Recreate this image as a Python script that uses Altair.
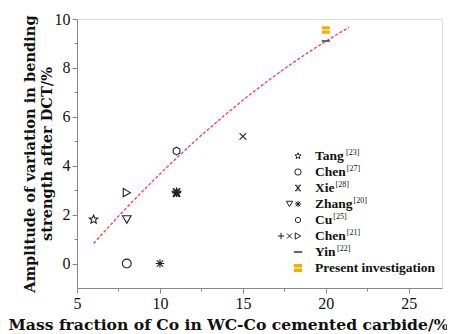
import altair as alt
import pandas as pd

# ---------------- data ----------------
tang_x, tang_y = [6, 11], [1.8, 2.9]
chen27_x, chen27_y = [8], [0.0]
xie_x, xie_y = [11], [2.9]
zhang_tri_x, zhang_tri_y = [8], [1.8]
zhang_ast_x, zhang_ast_y = [10, 11], [0.0, 2.9]
cu_x, cu_y = [11], [4.6]
chen21_plus_x, chen21_plus_y = [11], [2.9]
chen21_x_x, chen21_x_y = [15], [5.2]
chen21_tri_x, chen21_tri_y = [8], [2.9]
yin_x, yin_y = [20], [9.1]
present_x, present_y = [20], [9.55]

fit_x = [6, 8, 10, 12, 14, 16, 18, 20, 21.4]
fit_y = [0.82, 2.29, 3.66, 4.94, 6.12, 7.21, 8.2, 9.09, 9.66]

legend_labels = ["Tang", "Chen", "Xie", "Zhang", "Cu", "Chen", "Yin", "Present investigation"]
legend_sups = ["[23]", "[27]", "[28]", "[20]", "[25]", "[21]", "[22]", ""]
legend_markers = [["star"], ["circle"], ["xie"], ["tri_down", "ast"], ["hex"],
                  ["plus", "x", "tri_right"], ["dash"], ["present"]]

x_major = [5, 10, 15, 20, 25]
x_minor = [7.5, 12.5, 17.5, 22.5]
y_major = [0, 2, 4, 6, 8, 10]
y_minor = [1, 3, 5, 7, 9]

# ---------------- marker shapes ----------------
paths = {
    "star": "M0,-1L0.265,-0.364L0.951,-0.309L0.428,0.139L0.588,0.809L0,0.45L-0.588,0.809L-0.428,0.139L-0.951,-0.309L-0.265,-0.364Z",
    "circle": "circle",
    "xie": "M-0.8,-0.9L0.8,0.9M-0.8,0.9L0.8,-0.9M0,-0.9L0,0.9M-0.45,0L0.45,0M-0.9,-0.9L-0.4,-0.9M0.4,-0.9L0.9,-0.9M-0.9,0.9L-0.4,0.9M0.4,0.9L0.9,0.9",
    "tri_down": "triangle-down",
    "ast": "M-1,0L1,0M0,-1L0,1M-0.72,-0.72L0.72,0.72M-0.72,0.72L0.72,-0.72",
    "hex": "M0,-0.9L0.78,-0.45L0.78,0.45L0,0.9L-0.78,0.45L-0.78,-0.45Z",
    "plus": "M-1,0L1,0M0,-1L0,1",
    "x": "M-0.8,-0.8L0.8,0.8M-0.8,0.8L0.8,-0.8",
    "tri_right": "triangle-right",
    "dash": "M-1,-0.22L1,-0.22L1,0.22L-1,0.22Z",
    "present": "M-1,-0.95L1,-0.95L1,-0.12L-1,-0.12ZM-1,0.12L1,0.12L1,0.95L-1,0.95Z",
}
hollow_keys = ["star", "circle", "xie", "tri_down", "ast", "hex", "plus", "x", "tri_right"]
filled_keys = ["dash", "present"]
sizes = {"star": 80, "circle": 64, "xie": 70, "tri_down": 55, "ast": 70, "hex": 64,
         "plus": 60, "x": 60, "tri_right": 55, "dash": 80, "present": 100}
fills = {"dash": "#555555", "present": "#f0b000"}

rows = []
def add(xs, ys, m):
    for a, b in zip(xs, ys):
        rows.append({"x": a, "y": b, "m": m})
add(tang_x, tang_y, "star")
add(chen27_x, chen27_y, "circle")
add(xie_x, xie_y, "xie")
add(zhang_tri_x, zhang_tri_y, "tri_down")
add(zhang_ast_x, zhang_ast_y, "ast")
add(cu_x, cu_y, "hex")
add(chen21_plus_x, chen21_plus_y, "plus")
add(chen21_x_x, chen21_x_y, "x")
add(chen21_tri_x, chen21_tri_y, "tri_right")
add(yin_x, yin_y, "dash")
add(present_x, present_y, "present")
pts = pd.DataFrame(rows)

all_keys = hollow_keys + filled_keys
shape_scale = alt.Scale(domain=all_keys, range=[paths[k] for k in all_keys])
size_scale = alt.Scale(domain=all_keys, range=[sizes[k] for k in all_keys])
fill_scale = alt.Scale(domain=filled_keys, range=[fills[k] for k in filled_keys])

# ---------------- scales / axes ----------------
xs = alt.Scale(domain=[5, 27], nice=False, zero=False)
ys = alt.Scale(domain=[-1, 10], nice=False, zero=False)

FONT = "Liberation Serif"
x_main = alt.Axis(values=x_major, title="Mass fraction of Co in WC-Co cemented carbide/%",
                  orient="bottom", grid=False, labelFont=FONT, labelFontSize=16, labelColor="#111",
                  titleFont="DejaVu Serif", titleFontWeight="bold", titleFontSize=15.6, titleColor="#111",
                  titleX=151, titleY=41, titleBaseline="alphabetic", titleAlign="center",
                  tickSize=5, labelPadding=2, labelFlush=False)
y_main = alt.Axis(values=y_major, title=["Amplitude of variation in bending", "strength after DCT/%"],
                  orient="left", grid=False, labelFont=FONT, labelFontSize=16, labelColor="#111",
                  titleFont="DejaVu Serif", titleFontWeight="bold", titleFontSize=14.6, titleColor="#111",
                  titleLineHeight=17, titlePadding=0, tickSize=5, labelPadding=2)
x_min_ax = alt.Axis(values=x_minor, orient="bottom", labels=False, title=None, domain=False, grid=False, tickSize=3)
y_min_ax = alt.Axis(values=y_minor, orient="left", labels=False, title=None, domain=False, grid=False, tickSize=3)

fit_df = pd.DataFrame({"x": fit_x, "y": fit_y})
fit = alt.Chart(fit_df).mark_line(color="#ff3355", strokeDash=[3, 2], strokeWidth=1.3,
                                  interpolate="monotone").encode(
    x=alt.X("x:Q", scale=xs, axis=x_main),
    y=alt.Y("y:Q", scale=ys, axis=y_main),
)
minor = alt.Chart(fit_df).mark_point(opacity=0).encode(
    x=alt.X("x:Q", scale=xs, axis=x_min_ax),
    y=alt.Y("y:Q", scale=ys, axis=y_min_ax),
)

hollow = alt.Chart(pts[pts.m.isin(hollow_keys)]).mark_point(
    filled=False, color="#222", strokeWidth=1.1, opacity=1).encode(
    x=alt.X("x:Q", scale=xs, axis=None),
    y=alt.Y("y:Q", scale=ys, axis=None),
    shape=alt.Shape("m:N", scale=shape_scale, legend=None),
    size=alt.Size("m:N", scale=size_scale, legend=None),
)
filled = alt.Chart(pts[pts.m.isin(filled_keys)]).mark_point(
    filled=True, opacity=1, strokeWidth=0).encode(
    x=alt.X("x:Q", scale=xs, axis=None),
    y=alt.Y("y:Q", scale=ys, axis=None),
    shape=alt.Shape("m:N", scale=shape_scale, legend=None),
    size=alt.Size("m:N", scale=size_scale, legend=None),
    fill=alt.Fill("m:N", scale=fill_scale, legend=None),
)

# ---------------- manual legend (pixel layout inside plot area) ----------------
LX_TEXT, LX_SYM, LY0, LDY, SYM_STEP = 238, 221, 137, 16, 8.5
widths = {"T": 667, "a": 500, "n": 556, "g": 500, "C": 722, "h": 556, "e": 444, "X": 722,
          "i": 278, "Z": 667, "u": 556, "Y": 722}
LFS = 13.5
leg_rows, sym_rows = [], []
for i, (lab, sup, ms) in enumerate(zip(legend_labels, legend_sups, legend_markers)):
    w = sum(widths.get(c, 500) for c in lab) / 1000 * LFS
    leg_rows.append({"row": i, "label": lab, "sup": sup, "w": w})
    n = len(ms)
    for j, m in enumerate(ms):
        sym_rows.append({"row": i, "slot": j - (n - 1), "m": m})
leg = pd.DataFrame(leg_rows)
sym = pd.DataFrame(sym_rows)

leg_text = alt.Chart(leg).transform_calculate(
    px=f"{LX_TEXT}", py=f"{LY0} + datum.row * {LDY}"
).mark_text(align="left", baseline="middle", font=FONT, fontWeight="bold",
            fontSize=LFS, color="#111").encode(
    x=alt.X("px:Q", scale=None, axis=None), y=alt.Y("py:Q", scale=None, axis=None), text="label:N")
leg_sup = alt.Chart(leg).transform_calculate(
    px=f"{LX_TEXT} + datum.w + 1", py=f"{LY0} + datum.row * {LDY} - 3"
).mark_text(align="left", baseline="middle", font=FONT, fontSize=8, color="#111").encode(
    x=alt.X("px:Q", scale=None, axis=None), y=alt.Y("py:Q", scale=None, axis=None), text="sup:N")

leg_hollow = alt.Chart(sym[sym.m.isin(hollow_keys)]).transform_calculate(
    px=f"{LX_SYM} + datum.slot * {SYM_STEP}", py=f"{LY0} + datum.row * {LDY}"
).mark_point(filled=False, color="#222", strokeWidth=1.0, opacity=1).encode(
    x=alt.X("px:Q", scale=None, axis=None), y=alt.Y("py:Q", scale=None, axis=None),
    shape=alt.Shape("m:N", scale=shape_scale, legend=None),
    size=alt.value(40))
leg_filled = alt.Chart(sym[sym.m.isin(filled_keys)]).transform_calculate(
    px=f"{LX_SYM} + datum.slot * {SYM_STEP}", py=f"{LY0} + datum.row * {LDY}"
).mark_point(filled=True, opacity=1, strokeWidth=0).encode(
    x=alt.X("px:Q", scale=None, axis=None), y=alt.Y("py:Q", scale=None, axis=None),
    shape=alt.Shape("m:N", scale=shape_scale, legend=None),
    size=alt.value(70),
    fill=alt.Fill("m:N", scale=fill_scale, legend=None))

chart = alt.layer(fit, minor, hollow, filled, leg_text, leg_sup, leg_hollow, leg_filled).resolve_axis(
    x="independent", y="independent"
).properties(
    width=365, height=269, autosize="none",
    padding={"left": 69, "top": 11, "right": 5, "bottom": 46},
).configure_view(stroke="#444", strokeWidth=1.5).configure_axis(
    domainColor="#333", domainWidth=1.5, tickColor="#333", tickWidth=1.2
).configure(background="white")

chart.save("out.html", embed_options={"renderer": "svg", "actions": False})
